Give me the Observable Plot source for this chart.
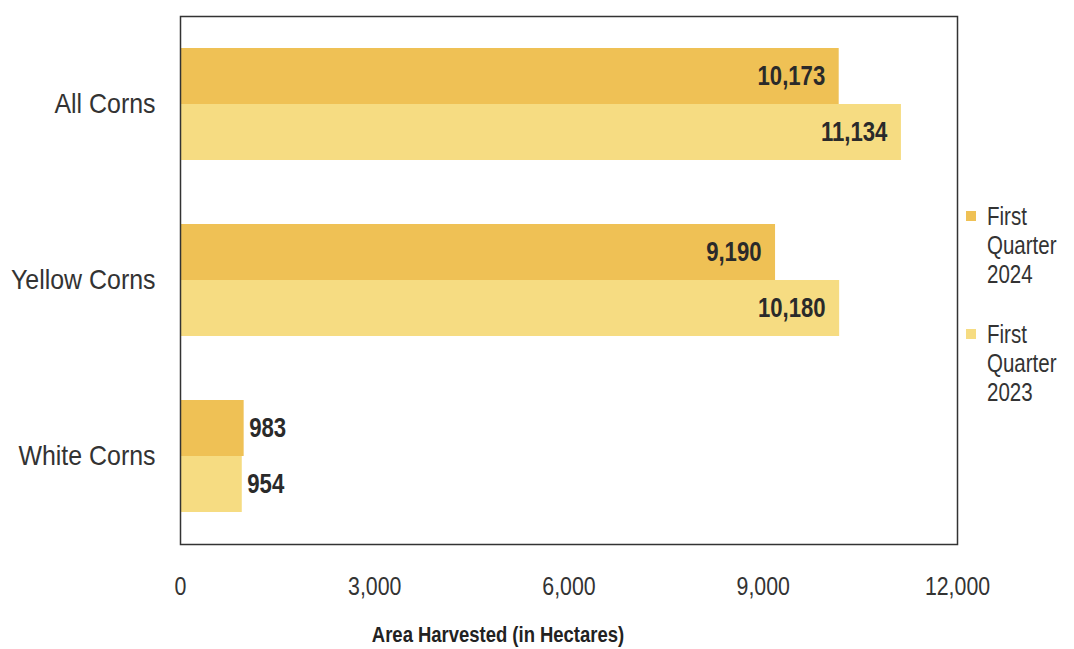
<!DOCTYPE html>
<html>
<head>
<meta charset="utf-8">
<script src="https://cdn.jsdelivr.net/npm/d3@7"></script>
<script src="https://cdn.jsdelivr.net/npm/@observablehq/plot@0.6"></script>
<style>
  html, body { margin: 0; padding: 0; background: #ffffff; }
  #wrap { position: relative; width: 1074px; height: 649px; font-family: "Liberation Sans", Arial, sans-serif; color: #333; }
  #legend { position: absolute; left: 966px; top: 202px; width: 108px; }
  .item { display: flex; align-items: flex-start; margin-bottom: 31px; }
  .sw { width: 10px; height: 10px; margin-top: 9px; margin-right: 11px; flex: none; }
  .lt { font-size: 25px; line-height: 29px; width: 80px; transform: scaleX(0.82); transform-origin: left top; }
  #xlabel { position: absolute; left: 0; top: 620px; width: 996px; text-align: center; font-weight: bold; font-size: 22.5px; line-height: 30px; color: #222; transform: scaleX(0.82); transform-origin: 498px 0; }
</style>
</head>
<body>
<div id="wrap"></div>
<script>
const categories = ["All Corns", "Yellow Corns", "White Corns"];
const series = ["First Quarter 2024", "First Quarter 2023"];
const q1_2024 = [10173, 9190, 983];
const q1_2023 = [11134, 10180, 954];
const xTicks = [0, 3000, 6000, 9000, 12000];
const colors = ["#EFC155", "#F6DC82"];
const xTitle = "Area Harvested (in Hectares)";

const values = [q1_2024, q1_2023];
const data = [];
categories.forEach((c, i) => {
  series.forEach((s, j) => data.push({category: c, series: s, value: values[j][i]}));
});
const fmt = d3.format(",");
const inside = data.filter(d => d.value >= 2000);
const outside = data.filter(d => d.value < 2000);

const chart = Plot.plot({
  width: 1074,
  height: 605,
  marginTop: 15,
  marginBottom: 60,
  marginLeft: 180,
  marginRight: 117,
  style: {fontFamily: '"Liberation Sans", Arial, sans-serif', color: "#333", background: "transparent"},
  x: {domain: [0, 12000]},
  fy: {domain: categories, padding: 0, label: null},
  y: {domain: series, paddingInner: 0, paddingOuter: 0.56, axis: null},
  color: {domain: series, range: colors},
  marks: [
    Plot.barX(data, {x: "value", y: "series", fy: "category", fill: "series"}),
    Plot.text(inside, {x: "value", y: "series", fy: "category", text: d => fmt(d.value), textAnchor: "end", dx: -14, fontSize: 27, fontWeight: "bold", fill: "#2a2a2a"}),
    Plot.text(outside, {x: "value", y: "series", fy: "category", text: d => fmt(d.value), textAnchor: "start", dx: 5, fontSize: 27, fontWeight: "bold", fill: "#2a2a2a"}),
    Plot.frame({facet: "super", stroke: "#333", strokeWidth: 1.5}),
    Plot.axisX({ticks: xTicks, tickFormat: fmt, tickSize: 0, tickPadding: 32, label: null, fontSize: 26}),
    Plot.axisFy({anchor: "left", tickSize: 0, tickPadding: 25, label: null, fontSize: 28})
  ]
});

const wrap = document.getElementById("wrap");
wrap.appendChild(chart);

// condense text horizontally to mimic a narrow typeface
d3.select(chart).selectAll("text").each(function() {
  const len = this.getComputedTextLength();
  if (len > 0) {
    const isFy = this.closest("g[aria-label='fy-axis tick label']") !== null;
    const k = isFy ? 0.89 : 0.82;
    this.setAttribute("textLength", (len * k).toFixed(1));
    this.setAttribute("lengthAdjust", "spacingAndGlyphs");
  }
});

const legend = document.createElement("div");
legend.id = "legend";
series.forEach((s, j) => {
  const item = document.createElement("div");
  item.className = "item";
  const sw = document.createElement("div");
  sw.className = "sw";
  sw.style.background = colors[j];
  const lt = document.createElement("div");
  lt.className = "lt";
  lt.textContent = s;
  item.appendChild(sw);
  item.appendChild(lt);
  legend.appendChild(item);
});
wrap.appendChild(legend);

const xl = document.createElement("div");
xl.id = "xlabel";
xl.textContent = xTitle;
wrap.appendChild(xl);
</script>
</body>
</html>
